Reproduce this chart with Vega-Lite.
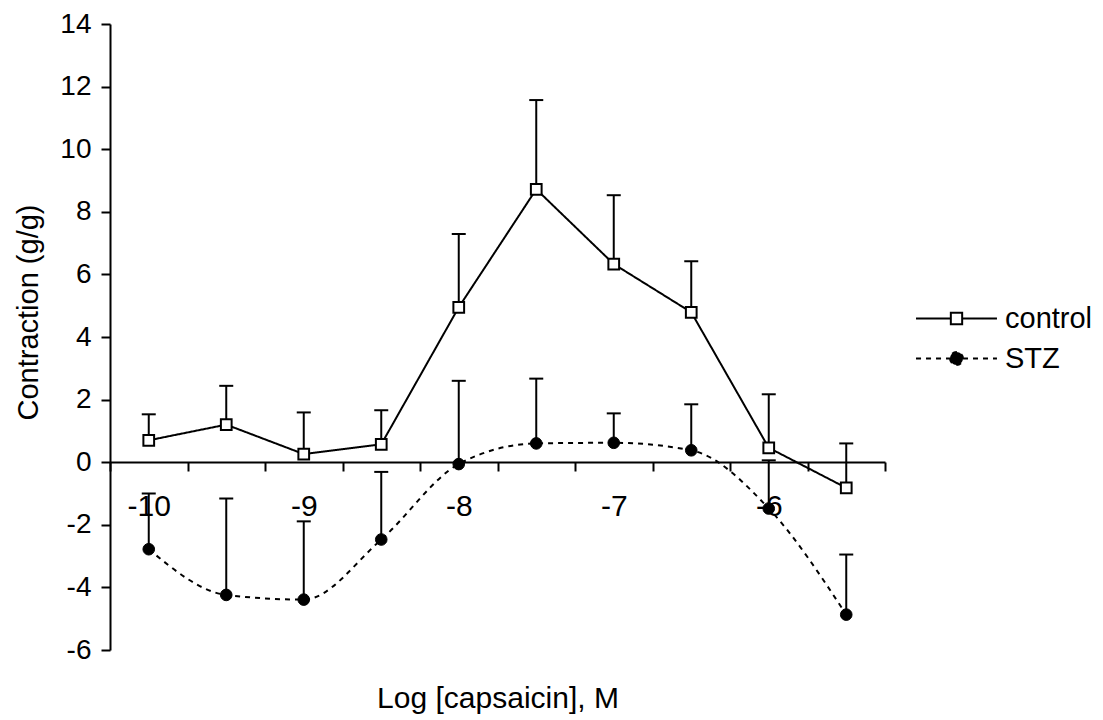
{
  "$schema": "https://vega.github.io/schema/vega-lite/v6.json",
  "width": 775,
  "height": 626,
  "autosize": {"type": "none"},
  "padding": {"left": 110, "top": 24, "right": 218, "bottom": 70},
  "background": "white",
  "data": {
    "values": [
      {"x": -10, "series": "control", "y": 0.70, "hi": 1.53},
      {"x": -9.5, "series": "control", "y": 1.20, "hi": 2.44},
      {"x": -9, "series": "control", "y": 0.26, "hi": 1.59},
      {"x": -8.5, "series": "control", "y": 0.57, "hi": 1.66},
      {"x": -8, "series": "control", "y": 4.95, "hi": 7.29},
      {"x": -7.5, "series": "control", "y": 8.72, "hi": 11.57},
      {"x": -7, "series": "control", "y": 6.33, "hi": 8.53},
      {"x": -6.5, "series": "control", "y": 4.79, "hi": 6.42},
      {"x": -6, "series": "control", "y": 0.46, "hi": 2.17},
      {"x": -5.5, "series": "control", "y": -0.82, "hi": 0.60},
      {"x": -10, "series": "STZ", "y": -2.78, "hi": -1.00},
      {"x": -9.5, "series": "STZ", "y": -4.24, "hi": -1.16},
      {"x": -9, "series": "STZ", "y": -4.39, "hi": -1.89},
      {"x": -8.5, "series": "STZ", "y": -2.47, "hi": -0.31},
      {"x": -8, "series": "STZ", "y": -0.06, "hi": 2.60},
      {"x": -7.5, "series": "STZ", "y": 0.60, "hi": 2.67},
      {"x": -7, "series": "STZ", "y": 0.62, "hi": 1.56},
      {"x": -6.5, "series": "STZ", "y": 0.38, "hi": 1.85},
      {"x": -6, "series": "STZ", "y": -1.48, "hi": 0.06},
      {"x": -5.5, "series": "STZ", "y": -4.87, "hi": -2.95}
    ]
  },
  "layer": [
    {
      "mark": {"type": "rule", "color": "black", "strokeWidth": 2},
      "encoding": {
        "x": {
          "field": "x", "type": "quantitative",
          "scale": {"domain": [-10.25, -5.25], "nice": false, "zero": false},
          "axis": {
            "values": [-10.25, -9.75, -9.25, -8.75, -8.25, -7.75, -7.25, -6.75, -6.25, -5.75, -5.25],
            "labels": false, "ticks": true, "tickSize": 9, "domain": true,
            "title": null, "offset": -188, "orient": "bottom"
          }
        },
        "y": {
          "field": "y", "type": "quantitative",
          "scale": {"domain": [-6, 14], "nice": false, "zero": false},
          "title": "Contraction (g/g)",
          "axis": {"values": [-6, -4, -2, 0, 2, 4, 6, 8, 10, 12, 14], "labelExpr": "'' + datum.value", "titleY": 288}
        },
        "y2": {"field": "hi"}
      }
    },
    {
      "mark": {"type": "tick", "orient": "horizontal", "color": "black", "thickness": 2, "size": 14, "opacity": 1},
      "encoding": {
        "x": {
          "field": "x", "type": "quantitative",
          "scale": {"domain": [-10.25, -5.25], "nice": false, "zero": false},
          "axis": {
            "values": [-10, -9, -8, -7, -6],
            "labelExpr": "'' + datum.value",
            "labels": true, "ticks": false, "tickSize": 0, "domain": false,
            "labelPadding": 29, "labelFontSize": 30,
            "title": "Log [capsaicin], M", "titleFontSize": 30, "titlePadding": 162,
            "offset": -188, "orient": "bottom"
          }
        },
        "y": {"field": "hi", "type": "quantitative", "title": "Contraction (g/g)"}
      }
    },
    {
      "transform": [{"filter": "datum.series === 'control'"}],
      "mark": {"type": "line", "color": "black", "strokeWidth": 2, "interpolate": "linear"},
      "encoding": {
        "x": {"field": "x", "type": "quantitative", "axis": null},
        "y": {"field": "y", "type": "quantitative", "title": "Contraction (g/g)"},
        "strokeDash": {
          "field": "series", "type": "nominal",
          "scale": {"domain": ["control", "STZ"], "range": [[1, 0], [5, 5]]},
          "legend": {
            "title": null, "orient": "none", "legendX": 832, "legendY": 280,
            "labelFontSize": 29, "labelFont": "Liberation Sans", "labelColor": "black",
            "symbolSize": 262, "labelOffset": 34, "rowPadding": 10, "padding": 0,
            "symbolStrokeWidth": 2, "symbolStrokeColor": "black",
            "encode": {
              "symbols": {
                "update": {
                  "shape": {"signal": "datum.value === 'control' ? 'M-5,0L-0.7,0M0.7,0L5,0M-0.7,-0.7L0.7,-0.7L0.7,0.7L-0.7,0.7Z' : 'M-5,0L-0.8,0M0.8,0L5,0M-0.8,0A0.8,0.8,0,1,0,0.8,0A0.8,0.8,0,1,0,-0.8,0Z'"},
                  "fill": {"signal": "datum.value === 'control' ? 'white' : 'black'"},
                  "stroke": {"value": "black"},
                  "strokeWidth": {"value": 2},
                  "size": {"value": 262},
                  "opacity": {"value": 1}
                }
              }
            }
          }
        }
      }
    },
    {
      "transform": [{"filter": "datum.series === 'STZ'"}],
      "mark": {"type": "line", "color": "black", "strokeWidth": 2, "interpolate": "monotone"},
      "encoding": {
        "x": {"field": "x", "type": "quantitative", "axis": null},
        "y": {"field": "y", "type": "quantitative", "title": "Contraction (g/g)"},
        "strokeDash": {"field": "series", "type": "nominal"}
      }
    },
    {
      "transform": [{"filter": "datum.series === 'control'"}],
      "mark": {"type": "point", "shape": "square", "size": 115, "fill": "white", "filled": true, "stroke": "black", "strokeWidth": 2, "opacity": 1},
      "encoding": {
        "x": {"field": "x", "type": "quantitative", "axis": null},
        "y": {"field": "y", "type": "quantitative", "title": "Contraction (g/g)"}
      }
    },
    {
      "transform": [{"filter": "datum.series === 'STZ'"}],
      "mark": {"type": "point", "shape": "circle", "size": 135, "fill": "black", "filled": true, "stroke": "black", "strokeWidth": 1, "opacity": 1},
      "encoding": {
        "x": {"field": "x", "type": "quantitative", "axis": null},
        "y": {"field": "y", "type": "quantitative", "title": "Contraction (g/g)"}
      }
    }
  ],
  "resolve": {"axis": {"x": "independent"}},
  "config": {
    "view": {"stroke": null},
    "font": "Liberation Sans",
    "axis": {
      "grid": false,
      "domainColor": "black", "tickColor": "black", "labelColor": "black", "titleColor": "black",
      "domainWidth": 2, "tickWidth": 2,
      "labelFont": "Liberation Sans", "titleFont": "Liberation Sans", "titleFontWeight": "normal"
    },
    "axisY": {
      "tickSize": 9, "labelPadding": 10, "labelFontSize": 28, "titleFontSize": 29, "titlePadding": 16
    }
  }
}
